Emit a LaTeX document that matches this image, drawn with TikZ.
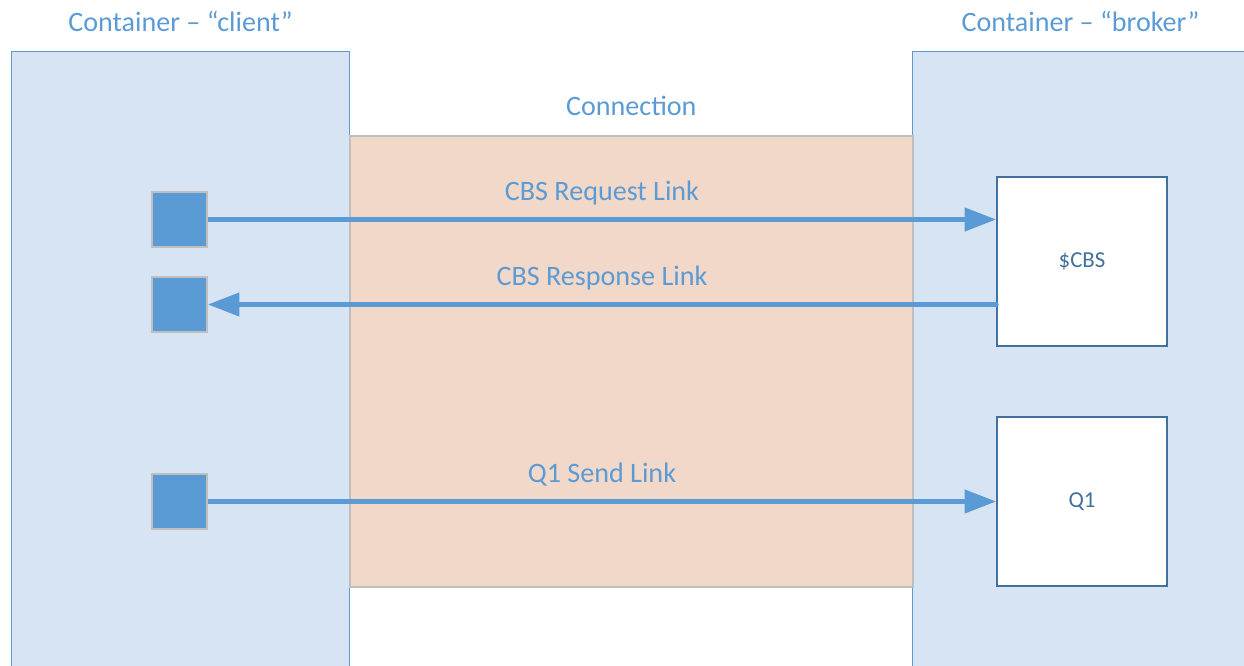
\documentclass[tikz,border=0pt]{standalone}
\usepackage{fontspec}
\setmainfont{Carlito}
\usepackage{tikz}
\usetikzlibrary{arrows.meta,positioning}
\definecolor{contblue}{HTML}{D6E4F3}
\definecolor{linkblue}{HTML}{5B9BD5}
\definecolor{connpeach}{HTML}{F2D8C8}
\definecolor{edgegrey}{HTML}{BFBFBF}
\definecolor{boxedge}{HTML}{41719C}

\begin{document}
\begin{tikzpicture}[font=\fontsize{16}{19}\selectfont,
   cont/.style={draw=linkblue,line width=0.6pt,fill=contblue,anchor=north west,
                inner sep=0pt,minimum height=12.8cm},
   conn/.style={draw=edgegrey,line width=0.9pt,fill=connpeach,anchor=north west,
                inner sep=0pt,minimum width=11.26cm,minimum height=9.02cm},
   ttl/.style={text=linkblue,anchor=base,inner sep=0pt},
   ep/.style={draw=edgegrey,line width=0.9pt,fill=linkblue,minimum size=1.1cm,inner sep=0pt},
   ent/.style={draw=boxedge,line width=0.9pt,fill=white,minimum width=3.4cm,
               minimum height=3.38cm,inner sep=0pt,text=boxedge,
               font=\fontsize{13}{15}\selectfont},
   lnk/.style={draw=linkblue,line width=2.8pt,-{Triangle[length=18pt,width=13pt]}},
   lbl/.style={text=linkblue,anchor=base,inner sep=0pt,yshift=3.8mm}]
  \useasboundingbox (0,0) rectangle (24.88,13.32);
  \clip (0,0) rectangle (24.88,13.32);

  % the two containers and the connection between them
  \node[cont,minimum width=6.76cm] (client) at (0.22,12.30) {};
  \node[cont,minimum width=7.0cm] (broker) at (18.24,12.30) {};
  \node[conn] (conn) at (6.98,10.62) {};

  \node[ttl] at ([yshift=3.8mm]client.north) {Container -- “client”};
  \node[ttl] at ([xshift=-1.4mm,yshift=3.8mm]broker.north) {Container -- “broker”};
  \node[ttl] at ([yshift=3.8mm]conn.north) {Connection};

  % link endpoints on the client side
  \node[ep] (req) at (3.59,8.93) {};
  \node[ep] (resp) at (3.59,7.23) {};
  \node[ep] (send) at (3.59,3.29) {};

  % nodes in the broker
  \node[ent] (cbs) at (21.64,8.09) {\$CBS};
  \node[ent] (q1) at (21.64,3.29) {Q1};

  % links
  \draw[lnk] (req.east) -- (req.east -| cbs.west)
     node[lbl,midway] {CBS Request Link};
  \draw[lnk,line cap=round] (resp.east -| cbs.west) -- (resp.east)
     node[lbl,midway] {CBS Response Link};
  \draw[lnk] (send.east) -- (q1.west)
     node[lbl,midway] {Q1 Send Link};
\end{tikzpicture}
\end{document}
